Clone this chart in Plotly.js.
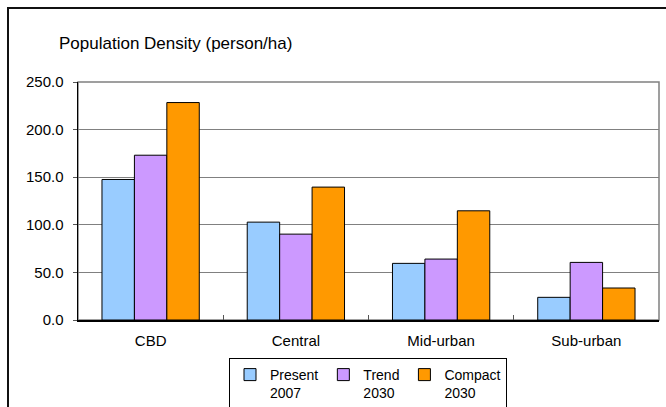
<!DOCTYPE html>
<html>
<head>
<meta charset="utf-8">
<script src="https://cdn.plot.ly/plotly-3.0.1.min.js"></script>
<style>
html,body{margin:0;padding:0;background:#fff;}
#frame{position:absolute;left:7px;top:7px;width:700px;height:500px;border-left:2px solid #111;border-top:2px solid #111;}
#chart{position:absolute;left:0;top:0;width:666px;height:407px;}
</style>
</head>
<body>
<div id="frame"></div>
<div id="chart"></div>
<script>
const categories = ["CBD", "Central", "Mid-urban", "Sub-urban"];
const seriesNames = ["Present<br>2007", "Trend<br>2030", "Compact<br>2030"];
const present2007 = [147.6, 102.8, 59.5, 23.8];
const trend2030 = [173.1, 90.2, 64.0, 60.5];
const compact2030 = [228.4, 139.6, 114.7, 33.6];
const yTickValues = [0, 50, 100, 150, 200, 250];

const colors = ["#99CCFF", "#CC99FF", "#FF9900"];
const values = [present2007, trend2030, compact2030];

const traces = values.map((v, i) => ({
  type: "bar",
  x: categories,
  y: v,
  name: seriesNames[i],
  marker: {color: colors[i], line: {color: "#000", width: 1}},
  hoverinfo: "skip"
}));

const layout = {
  width: 666, height: 407,
  margin: {l: 78, r: 7, t: 82, b: 87, autoexpand: false},
  paper_bgcolor: "rgba(0,0,0,0)",
  plot_bgcolor: "#fff",
  font: {family: "Liberation Sans, Arial, sans-serif", size: 15, color: "#000"},
  title: {
    text: "Population Density (person/ha)",
    font: {size: 17, color: "#000"},
    x: 59/666, xref: "container", xanchor: "left",
    y: 1 - 43/407, yref: "container", yanchor: "middle"
  },
  barmode: "group",
  bargap: 0.33,
  bargroupgap: 0,
  xaxis: {
    type: "category",
    showline: true, linecolor: "#000", linewidth: 1.5,
    ticks: "inside", ticklen: 5, tickcolor: "#555", tickson: "boundaries",
    showgrid: false,
    ticklabelstandoff: 6,
    tickfont: {size: 15}
  },
  yaxis: {
    range: [0, 250], tickvals: yTickValues, tickformat: ".1f",
    showline: true, linecolor: "#000", linewidth: 1.5,
    ticks: "outside", ticklen: 4, tickcolor: "#555",
    showgrid: true, gridcolor: "#808080", gridwidth: 1,
    zeroline: false,
    ticklabelstandoff: 6,
    tickfont: {size: 15}
  },
  shapes: [{
    type: "rect", xref: "paper", yref: "paper", x0: 0, x1: 1, y0: 0, y1: 1,
    line: {color: "#808080", width: 1.5}, layer: "below"
  }],
  legend: {
    orientation: "h",
    x: 368/666, xref: "container", xanchor: "center",
    y: 1 - 358/407, yref: "container", yanchor: "top",
    bordercolor: "#000", borderwidth: 1,
    bgcolor: "#fff",
    font: {size: 14},
    valign: "top",
    itemwidth: 30,
    tracegroupgap: 0
  },
  showlegend: true
};

Plotly.newPlot("chart", traces, layout, {staticPlot: true, displayModeBar: false});
</script>
</body>
</html>
